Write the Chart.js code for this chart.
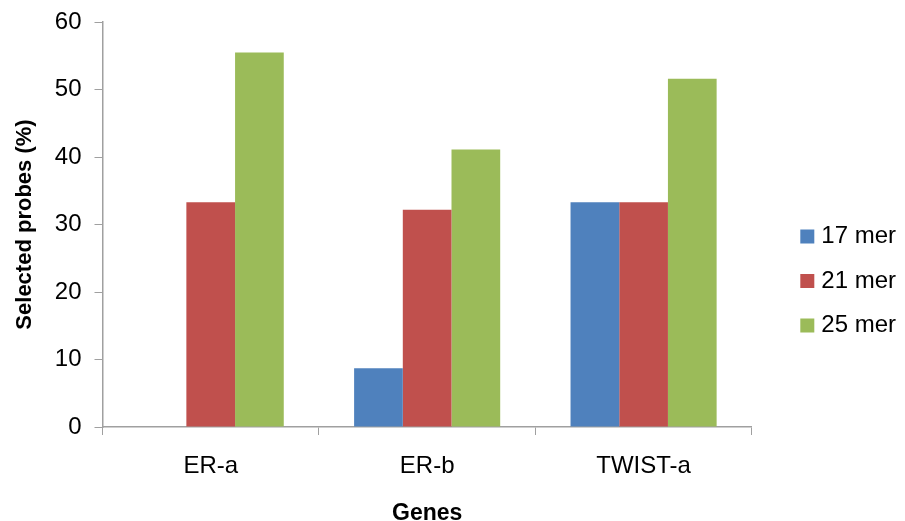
<!DOCTYPE html>
<html>
<head>
<meta charset="utf-8">
<script src="https://cdn.jsdelivr.net/npm/chart.js@4/dist/chart.umd.min.js"></script>
<style>
  html, body { margin: 0; padding: 0; background: #fff; }
  #wrap { width: 905px; height: 521px; }
</style>
</head>
<body>
<div id="wrap"><canvas id="c" width="905" height="521"></canvas></div>
<script>
// Percentage of probes retained per gene, by probe length
const genes = ['ER-a', 'ER-b', 'TWIST-a'];
const mer17 = [0, 8.7, 33.3];
const mer21 = [33.3, 32.2, 33.3];
const mer25 = [55.5, 41.1, 51.6];
const seriesNames = ['17 mer', '21 mer', '25 mer'];
const yTicks = [0, 10, 20, 30, 40, 50, 60];

const colors = ['#4F81BD', '#C0504D', '#9BBB59'];
const axisGray = '#A0A0A0';
const font = "'Liberation Sans', Arial, sans-serif";

Chart.defaults.font.family = font;
Chart.defaults.color = '#000';

// Slide the legend block right and down inside the free margin
const legendNudge = {
  id: 'legendNudge',
  afterLayout(chart) {
    const l = chart.legend;
    if (!l) return;
    const dx = 33, dy = 9.5;
    l.left += dx; l.right += dx;
    l.top += dy; l.bottom += dy;
  }
};

new Chart(document.getElementById('c'), {
  type: 'bar',
  data: {
    labels: genes,
    datasets: [mer17, mer21, mer25].map((d, i) => ({
      label: seriesNames[i],
      data: d,
      backgroundColor: colors[i],
      borderWidth: 0,
      barPercentage: 1.0,
      categoryPercentage: 0.675
    }))
  },
  options: {
    responsive: false,
    animation: false,
    devicePixelRatio: 1,
    layout: { padding: { top: 22, right: 32, bottom: 0, left: 0 } },
    plugins: {
      tooltip: { enabled: false },
      legend: {
        position: 'right',
        align: 'center',
        labels: {
          usePointStyle: true,
          pointStyle: 'rect',
          boxWidth: 4,
          boxHeight: 14,
          padding: 20.5,
          font: { size: 24, family: font },
          color: '#000'
        }
      }
    },
    scales: {
      x: {
        grid: {
          display: true,
          drawOnChartArea: false,
          offset: true,
          color: axisGray,
          tickLength: 8,
          lineWidth: 1
        },
        border: { color: axisGray, width: 1.5 },
        ticks: { font: { size: 24 }, color: '#000', padding: 17 },
        title: {
          display: true,
          text: 'Genes',
          font: { size: 23, weight: 'bold', lineHeight: 1 },
          color: '#000',
          padding: { top: 0, bottom: -4 }
        },
        afterFit: s => { s.height = 94; }
      },
      y: {
        min: 0,
        max: 60,
        afterBuildTicks: s => { s.ticks = yTicks.map(v => ({ value: v })); },
        grid: {
          display: true,
          drawOnChartArea: false,
          color: axisGray,
          tickLength: 8
        },
        border: { color: axisGray, width: 1.5 },
        ticks: { font: { size: 24 }, color: '#000', padding: 13 },
        title: {
          display: true,
          text: 'Selected probes (%)',
          font: { size: 22, weight: 'bold' },
          color: '#000',
          padding: { top: 12, bottom: 0 }
        },
        afterFit: s => {
          s.width = 102.5;
          s.paddingTop = 0;
          s.paddingBottom = 0;
        }
      }
    }
  },
  plugins: [legendNudge]
});
</script>
</body>
</html>
